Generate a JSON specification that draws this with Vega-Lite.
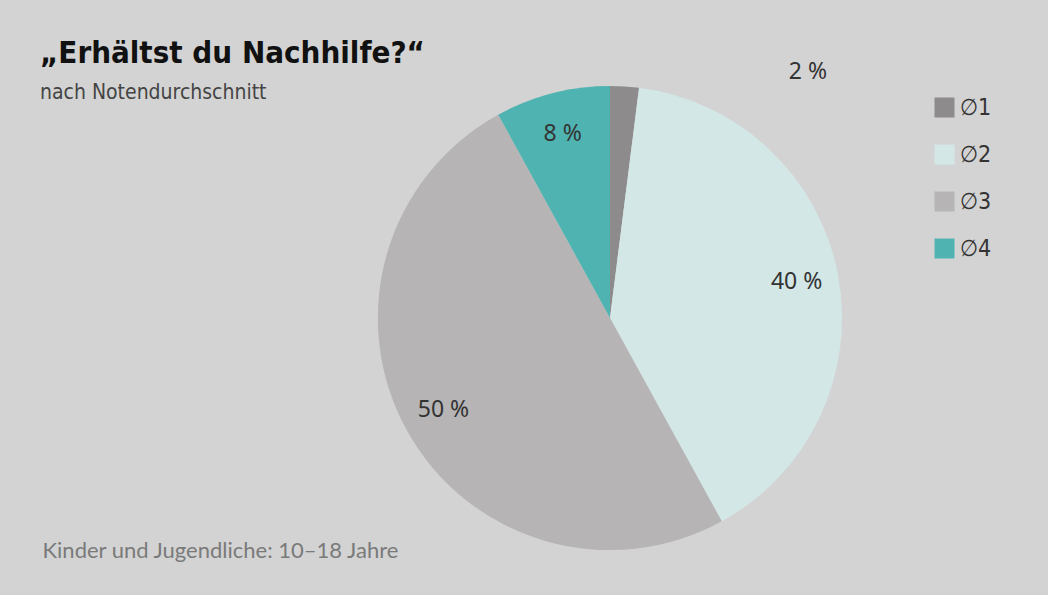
{
  "$schema": "https://vega.github.io/schema/vega-lite/v6.json",
  "autosize": {"type": "none"},
  "width": 858,
  "height": 538,
  "padding": {"left": 181, "top": 49, "right": 9, "bottom": 8},
  "background": "#d3d3d3",
  "config": {"view": {"stroke": null}},
  "title": {
    "text": "„Erhältst du Nachhilfe?“",
    "subtitle": "nach Notendurchschnitt",
    "anchor": "start",
    "frame": "group",
    "dx": -141,
    "offset": -92,
    "font": "DejaVu Sans Condensed, sans-serif",
    "fontSize": 31,
    "fontWeight": "bold",
    "color": "#111111",
    "subtitleFont": "DejaVu Sans Condensed, sans-serif",
    "subtitleFontSize": 21,
    "subtitleColor": "#444444",
    "subtitlePadding": 12
  },
  "data": {
    "values": [
      {"grade": "∅1", "pct": 2, "label": "2 %", "order": 1},
      {"grade": "∅2", "pct": 40, "label": "40 %", "order": 2},
      {"grade": "∅3", "pct": 50, "label": "50 %", "order": 3},
      {"grade": "∅4", "pct": 8, "label": "8 %", "order": 4}
    ]
  },
  "layer": [
    {
      "mark": {"type": "arc", "outerRadius": 232},
      "encoding": {
        "theta": {"field": "pct", "type": "quantitative", "stack": true},
        "order": {"field": "order", "type": "quantitative"},
        "color": {
          "field": "grade",
          "type": "nominal",
          "scale": {
            "domain": ["∅1", "∅2", "∅3", "∅4"],
            "range": ["#8d8b8b", "#d2e7e6", "#b6b4b4", "#4fb4b1"]
          },
          "legend": {
            "title": null,
            "orient": "top-right",
            "offset": 47,
            "padding": 0,
            "symbolType": "square",
            "symbolSize": 400,
            "symbolStrokeWidth": 0,
            "labelFont": "DejaVu Sans Condensed, sans-serif",
            "labelFontSize": 23,
            "labelColor": "#333333",
            "labelOffset": 4,
            "rowPadding": 23
          }
        }
      }
    },
    {
      "mark": {"type": "text", "radius": 190, "font": "Noto Sans", "fontSize": 23, "color": "#333333"},
      "encoding": {
        "theta": {"field": "pct", "type": "quantitative", "stack": true},
        "order": {"field": "order", "type": "quantitative"},
        "text": {"condition": {"test": "datum.pct > 5", "field": "label"}, "value": ""}
      }
    },
    {
      "mark": {"type": "text", "radius": 316, "thetaOffset": 0.614, "font": "Noto Sans", "fontSize": 23, "color": "#333333"},
      "encoding": {
        "theta": {"field": "pct", "type": "quantitative", "stack": true},
        "order": {"field": "order", "type": "quantitative"},
        "text": {"condition": {"test": "datum.pct < 5", "field": "label"}, "value": ""}
      }
    },
    {
      "mark": {"type": "point", "opacity": 0},
      "encoding": {
        "x": {
          "field": "pct",
          "type": "quantitative",
          "axis": {
            "domain": false,
            "ticks": false,
            "labels": false,
            "grid": false,
            "title": "Kinder und Jugendliche: 10–18 Jahre",
            "titleAnchor": "start",
            "titleX": -139,
            "titleY": -47,
            "titleFont": "Lato",
            "titleFontSize": 22,
            "titleFontWeight": "normal",
            "titleColor": "#7a7a7a"
          }
        }
      }
    }
  ]
}
